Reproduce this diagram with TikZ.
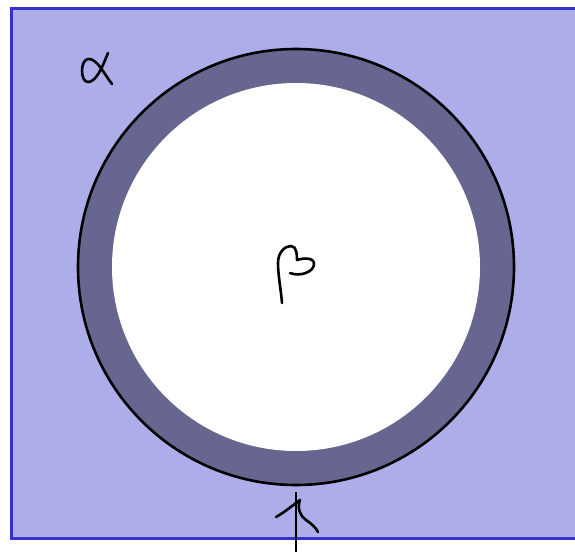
\documentclass[tikz,border=0pt]{standalone}
\definecolor{bgfill}{RGB}{173,173,234}
\definecolor{bgedge}{RGB}{51,51,204}
\definecolor{ringc}{RGB}{102,102,144}
\begin{document}
\begin{tikzpicture}[x=1pt,y=-1pt,
  stroke/.style={line width=2.6pt,line cap=round,line join=round,black}]
\useasboundingbox (0,0) rectangle (575,552);
\fill[white] (0,0) rectangle (575,552);
\filldraw[fill=bgfill,draw=bgedge,line width=3pt] (11.5,8.5) rectangle (590,538.5);
\coordinate (c) at (296,267);
\fill[ringc] (c) circle (218);
\fill[white] (c) circle (184);
\draw[black,line width=2.6pt] (c) circle (218);
% alpha
\draw[stroke] (108,53) .. controls (102,68) and (96,82) .. (88,82)
  .. controls (80,82) and (80,60) .. (88,59)
  .. controls (97,58) and (104,74) .. (112,84);
% beta
\draw[stroke] (282,303) .. controls (281,290) and (278,275) .. (278,263)
  .. controls (278,252) and (285,246) .. (291,246)
  .. controls (297,246) and (297,256) .. (297,260)
  .. controls (303,258) and (314,257) .. (314,264)
  .. controls (314,272) and (300,277) .. (290,273);
% bottom mark
\coordinate (vt) at (296,492);
\coordinate (vb) at (296,552);
\draw[black,line width=2.4pt] (vt) -- (vb);
\draw[stroke] (276,517) .. controls (285,512) and (293,505) .. (300,500)
  .. controls (297,508) and (300,516) .. (306,520)
  .. controls (312,524) and (316,528) .. (318,532);
\end{tikzpicture}
\end{document}
